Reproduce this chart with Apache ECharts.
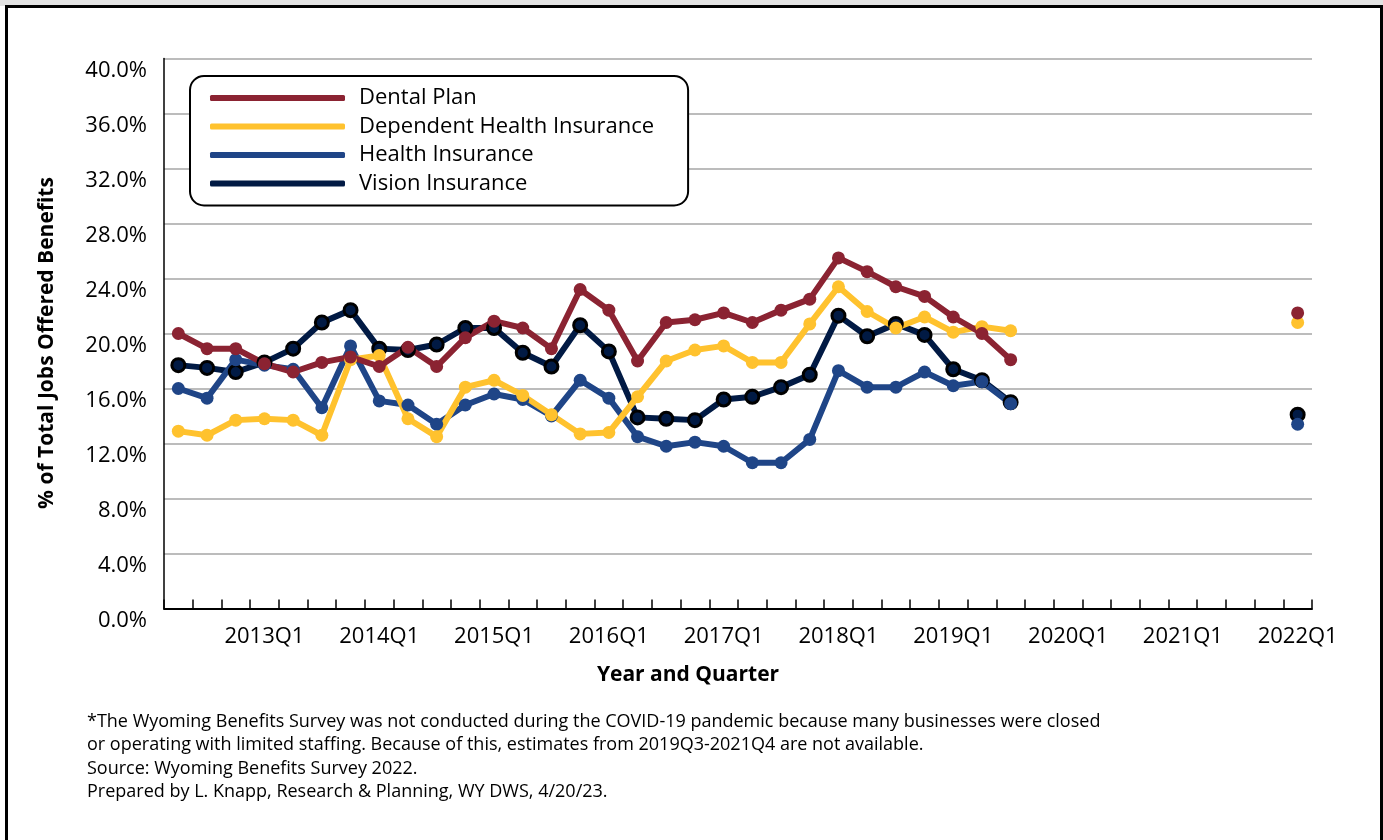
<!DOCTYPE html>
<html>
<head>
<meta charset="utf-8">
<script src="https://cdn.jsdelivr.net/npm/echarts@6/dist/echarts.min.js"></script>
<style>
html,body{margin:0;padding:0;background:#fff;}
#top{position:absolute;left:0;top:0;width:1383px;height:6px;background:#e2e2e2;}
#frame{position:absolute;left:5px;top:5px;width:1372px;height:850px;border:3px solid #000;background:#fff;}
#chart{position:absolute;left:0;top:0;width:1383px;height:840px;}
</style>
</head>
<body>
<div id="top"></div>
<div id="frame"></div>
<div id="chart"></div>
<script>
const categories = [
  '2012Q2','2012Q3','2012Q4',
  '2013Q1','2013Q2','2013Q3','2013Q4',
  '2014Q1','2014Q2','2014Q3','2014Q4',
  '2015Q1','2015Q2','2015Q3','2015Q4',
  '2016Q1','2016Q2','2016Q3','2016Q4',
  '2017Q1','2017Q2','2017Q3','2017Q4',
  '2018Q1','2018Q2','2018Q3','2018Q4',
  '2019Q1','2019Q2','2019Q3','2019Q4',
  '2020Q1','2020Q2','2020Q3','2020Q4',
  '2021Q1','2021Q2','2021Q3','2021Q4',
  '2022Q1'
];

const dentalPlan = [20.0, 18.9, 18.9, 17.8, 17.2, 17.9, 18.3, 17.6, 19.0, 17.6,
  19.7, 20.9, 20.4, 18.9, 23.2, 21.7, 18.0, 20.8, 21.0, 21.5,
  20.8, 21.7, 22.5, 25.5, 24.5, 23.4, 22.7, 21.2, 20.0, 18.1,
  null, null, null, null, null, null, null, null, null, 21.5];

const dependentHealth = [12.9, 12.6, 13.7, 13.8, 13.7, 12.6, 18.1, 18.4, 13.8, 12.5,
  16.1, 16.6, 15.5, 14.1, 12.7, 12.8, 15.4, 18.0, 18.8, 19.1,
  17.9, 17.9, 20.7, 23.4, 21.6, 20.4, 21.2, 20.1, 20.5, 20.2,
  null, null, null, null, null, null, null, null, null, 20.8];

const healthInsurance = [16.0, 15.3, 18.1, 17.7, 17.4, 14.6, 19.1, 15.1, 14.8, 13.4,
  14.8, 15.6, 15.2, 14.0, 16.6, 15.3, 12.5, 11.8, 12.1, 11.8,
  10.6, 10.6, 12.3, 17.3, 16.1, 16.1, 17.2, 16.2, 16.5, 14.9,
  null, null, null, null, null, null, null, null, null, 13.4];

const visionInsurance = [17.7, 17.5, 17.2, 17.9, 18.9, 20.8, 21.7, 18.9, 18.8, 19.2,
  20.4, 20.4, 18.6, 17.6, 20.6, 18.7, 13.9, 13.8, 13.7, 15.2,
  15.4, 16.1, 17.0, 21.3, 19.8, 20.7, 19.9, 17.4, 16.6, 15.0,
  null, null, null, null, null, null, null, null, null, 14.1];

const seriesNames = ['Dental Plan', 'Dependent Health Insurance', 'Health Insurance', 'Vision Insurance'];

const footnotes = [
  '*The Wyoming Benefits Survey was not conducted during the COVID-19 pandemic because many businesses were closed',
  'or operating with limited staffing. Because of this, estimates from 2019Q3-2021Q4 are not available.',
  'Source: Wyoming Benefits Survey 2022.',
  'Prepared by L. Knapp, Research & Planning, WY DWS, 4/20/23.'
];

const FONT = '"Open Sans", sans-serif';
const chart = echarts.init(document.getElementById('chart'), null, {renderer: 'canvas'});

function lineSeries(name, data, color, border) {
  return {
    name: name,
    type: 'line',
    data: data,
    symbol: 'circle',
    symbolSize: 13,
    showSymbol: true,
    connectNulls: false,
    animation: false,
    lineStyle: {color: color, width: 6},
    itemStyle: {color: color, borderColor: border || color, borderWidth: border ? 3 : 0}
  };
}

const footGraphics = footnotes.map((t, i) => ({
  type: 'text',
  left: 87,
  top: 713 + i * 23.3,
  style: {text: t, font: '18px ' + FONT, fill: '#000'}
}));

const option = {
  animation: false,
  textStyle: {fontFamily: FONT},
  grid: {left: 164, right: 71, top: 58.5, bottom: 231.5, containLabel: false},
  legend: {
    data: seriesNames,
    orient: 'vertical',
    left: 190,
    top: 76,
    backgroundColor: '#fff',
    borderColor: '#000',
    borderWidth: 2,
    borderRadius: 14,
    padding: [11, 34, 11, 20],
    itemWidth: 135,
    itemHeight: 6,
    itemGap: 6.5,
    icon: 'roundRect',
    itemStyle: {borderWidth: 0},
    textStyle: {fontSize: 22, color: '#000', fontFamily: FONT, lineHeight: 22, padding: [0, 0, 0, 9]},
    selectedMode: false
  },
  xAxis: {
    type: 'category',
    data: categories,
    boundaryGap: true,
    axisLine: {lineStyle: {color: '#000', width: 2}},
    axisTick: {show: true, interval: 0, inside: true, length: 9, lineStyle: {color: '#000', width: 1.5}},
    axisLabel: {
      interval: (idx, val) => val.endsWith('Q1'),
      fontSize: 22, color: '#000', margin: 17, fontFamily: FONT
    },
    splitLine: {show: false}
  },
  yAxis: {
    type: 'value',
    min: 0, max: 40, interval: 4,
    axisLine: {show: true, lineStyle: {color: '#000', width: 1.5}},
    axisTick: {show: false},
    axisLabel: {formatter: v => v.toFixed(1) + '%', fontSize: 22, color: '#000', margin: 17,
      fontFamily: FONT, verticalAlign: 'top', lineHeight: 24},
    splitLine: {lineStyle: {color: '#a6a6a6', width: 1.5}}
  },
  graphic: [
    {type: 'text', x: 688, y: 675,
      style: {text: 'Year and Quarter', font: 'bold 21px ' + FONT, fill: '#000', align: 'center', verticalAlign: 'middle'}},
    {type: 'text', x: 47, y: 343, rotation: Math.PI / 2,
      style: {text: '% of Total Jobs Offered Benefits', font: 'bold 21px ' + FONT, fill: '#000', align: 'center', verticalAlign: 'middle'}}
  ].concat(footGraphics),
  series: [
    lineSeries('Vision Insurance', visionInsurance, '#011a44', '#000'),
    lineSeries('Health Insurance', healthInsurance, '#1f4587'),
    lineSeries('Dependent Health Insurance', dependentHealth, '#ffc22e'),
    lineSeries('Dental Plan', dentalPlan, '#8b2332')
  ]
};
chart.setOption(option);
</script>
</body>
</html>
